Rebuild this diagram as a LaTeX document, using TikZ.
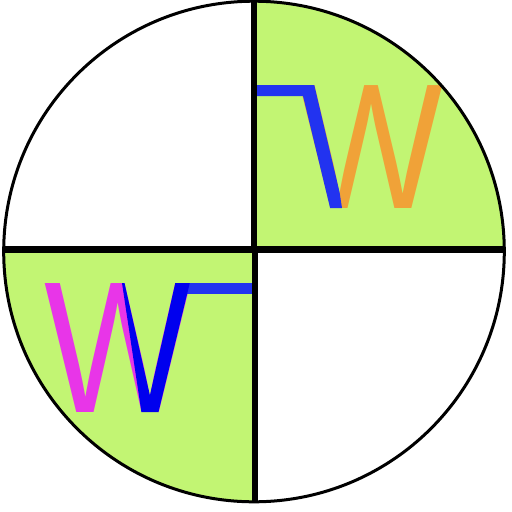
\documentclass[tikz,border=0pt]{standalone}
\usepackage{fontspec}
\usepackage{xcolor}
\usepackage{tikz}
\usetikzlibrary{calc}
\newfontfamily\wfont{Liberation Sans}
\definecolor{quadgreen}{RGB}{194,245,115}
\definecolor{barblue}{RGB}{34,51,240}
\definecolor{deepblue}{RGB}{0,0,238}
\definecolor{worange}{RGB}{240,162,56}
\definecolor{wmagenta}{RGB}{232,53,232}
\tikzset{
  rim/.style={draw=black, line width=0.06cm},
  crossline/.style={draw=black, line width=0.13cm},
  quadfill/.style={fill=quadgreen},
  wletter/.style={inner sep=0pt, anchor=base west,
              font=\wfont\fontsize{#1}{#1}\selectfont},
  wletter/.default=100pt,
}

\begin{document}
\begin{tikzpicture}[x=0.02cm, y=-0.02cm]
  \useasboundingbox (0,0) rectangle (512,512);
  \coordinate (ctr) at (254,251.5);
  \coordinate (north) at (254,1.2);
  \coordinate (south) at (255,501.8);
  \coordinate (west) at (3.7,249.5);
  \coordinate (east) at (504.3,249.5);
  \coordinate (mid) at (254,249.5);
  \coordinate (midlow) at (255,249.5);

  % green quarters
  \begin{scope}
    \clip (ctr) circle[radius=250.3];
    \fill[quadfill] (mid) rectangle (512,0);
    \fill[quadfill] (mid) rectangle (0,512);
  \end{scope}

  % upper right W
  \node[wletter=101.7pt, xscale=0.852, text=worange] (wupper) at (299.1,208) {W};
  \fill[barblue] (254,85) -- (314.3,85) -- (339.6,192.3) -- (342,208) -- (330.1,208)
        -- (303,96) -- (254,96) -- cycle;

  % lower left W
  \node[wletter=106.7pt, xscale=0.83, text=wmagenta] (wlower) at (44.1,412) {W};
  \fill[barblue] (187,283) rectangle (254,294);
  \fill[deepblue] (122,283) -- (124.5,283) -- (149.9,395.3) -- (175.3,283) -- (189.8,283)
        -- (158.5,412) -- (141.4,412) -- cycle;

  % cross and rim
  \draw[crossline] (west) -- (east);
  \draw[crossline] (north) -- (mid);
  \draw[crossline] (midlow) -- (south);
  \draw[rim] (ctr) circle[radius=250.3];
\end{tikzpicture}
\end{document}
